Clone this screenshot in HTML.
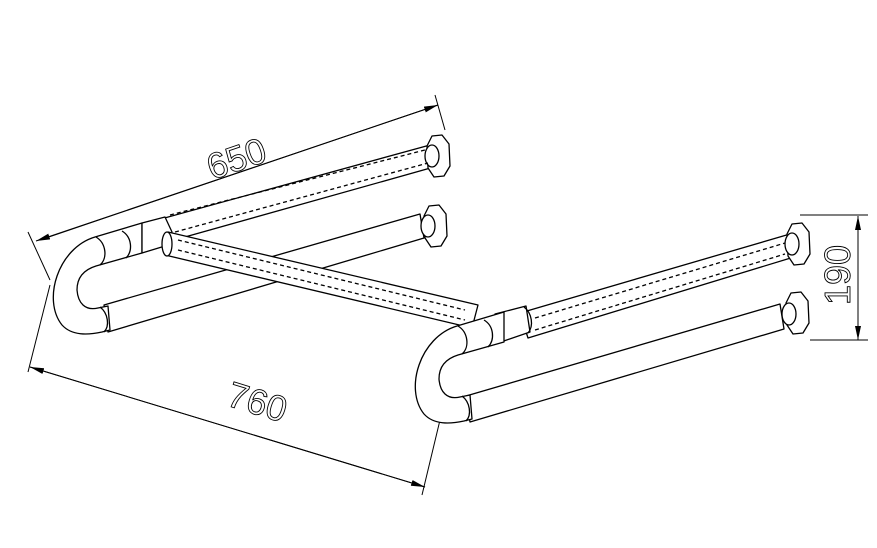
<!DOCTYPE html>
<html><head><style>html,body{margin:0;background:#fff}svg{display:block}</style></head><body>
<svg width="877" height="548" viewBox="0 0 877 548" xmlns="http://www.w3.org/2000/svg" font-family="Liberation Sans, sans-serif">
<defs>
<marker id="ar" markerWidth="14" markerHeight="8" refX="14" refY="4" orient="auto" markerUnits="userSpaceOnUse"><path d="M0,1 L14,4 L0,7 z" fill="#000"/></marker>
<g id="U">
<path d="M142,223 L95,237 C58,248 42,300 62,325 C72,336 88,335 102,332 L110,330 L108,306 L98,308 C85,311 78,303 77,290 C77,278 83,270 96,266 L142,253 Z"/>
<path d="M96,237 C106,243 108,258 100,265" fill="none"/>
<path d="M122,231 C132,237 133,251 126,258" fill="none"/>
<path d="M100,307 C108,313 110,326 104,332" fill="none"/>
</g>
<path id="F" d="M-6,-20 L4,-21 L11,-12 L12,10 L6,20 L-4,21 L-10,12 L-11,-10 Z"/>
</defs>
<g stroke="#000" stroke-width="1" fill="none">
<line x1="28" y1="232" x2="50" y2="280"/>
<line x1="435" y1="95" x2="445" y2="130"/>
<line x1="438" y1="105" x2="36" y2="241" marker-end="url(#ar)"/>
<line x1="40" y1="240" x2="438" y2="105" marker-end="url(#ar)"/>
<line x1="50" y1="285" x2="28" y2="372"/>
<line x1="440" y1="420" x2="422" y2="495"/>
<line x1="425" y1="487" x2="30" y2="367" marker-end="url(#ar)"/>
<line x1="30" y1="367" x2="425" y2="487" marker-end="url(#ar)"/>
<line x1="800" y1="215" x2="868" y2="215"/>
<line x1="810" y1="340" x2="868" y2="340"/>
<line x1="858" y1="340" x2="858" y2="216" marker-end="url(#ar)"/>
<line x1="858" y1="216" x2="858" y2="340" marker-end="url(#ar)"/>
</g>
<g font-size="36" fill="#fff" stroke="#000" stroke-width="0.9">
<text transform="translate(212,180) rotate(-19)">650</text>
<text transform="translate(225,405) rotate(17)">760</text>
<text transform="translate(850,305) rotate(-90)">190</text>
</g>
<g stroke="#000" stroke-width="1.3" fill="#fff" stroke-linejoin="round">
<polygon points="150,222 430,145 434,167 160,244"/>
<use href="#F" x="438" y="156"/>
<ellipse cx="432" cy="156" rx="7" ry="11"/>
<polygon points="104,305 420,214 424,238 108,332"/>
<use href="#F" x="435" y="226"/>
<ellipse cx="428" cy="226" rx="7" ry="11"/>
<use href="#U"/>
<polygon points="142,223 165,217 172,232 165,246 142,253"/>
<polygon points="168,232 478,305 472,328 165,255"/>
<ellipse cx="167" cy="244" rx="5" ry="12"/>
<polygon points="520,313 790,234 794,257 528,338"/>
<use href="#F" x="798" y="244"/>
<ellipse cx="792" cy="244" rx="7" ry="11"/>
<polygon points="466,396 780,304 784,329 470,422"/>
<use href="#F" x="797" y="313"/>
<ellipse cx="789" cy="314" rx="7" ry="11"/>
<polygon points="495,314 526,306 530,332 498,343"/>
<path d="M524,307 C532,313 534,326 528,333" fill="none"/>
<g transform="translate(362,89)"><use href="#U"/></g>
</g>
<g fill="none" stroke="#000" stroke-width="1.3" stroke-dasharray="4 3">
<line x1="170" y1="215" x2="425" y2="150"/>
<line x1="175" y1="232" x2="428" y2="163"/>
<line x1="178" y1="240" x2="465" y2="310"/>
<line x1="178" y1="250" x2="465" y2="320"/>
<line x1="535" y1="318" x2="785" y2="243"/>
<line x1="535" y1="330" x2="785" y2="254"/>
</g>
</svg>
</body></html>
